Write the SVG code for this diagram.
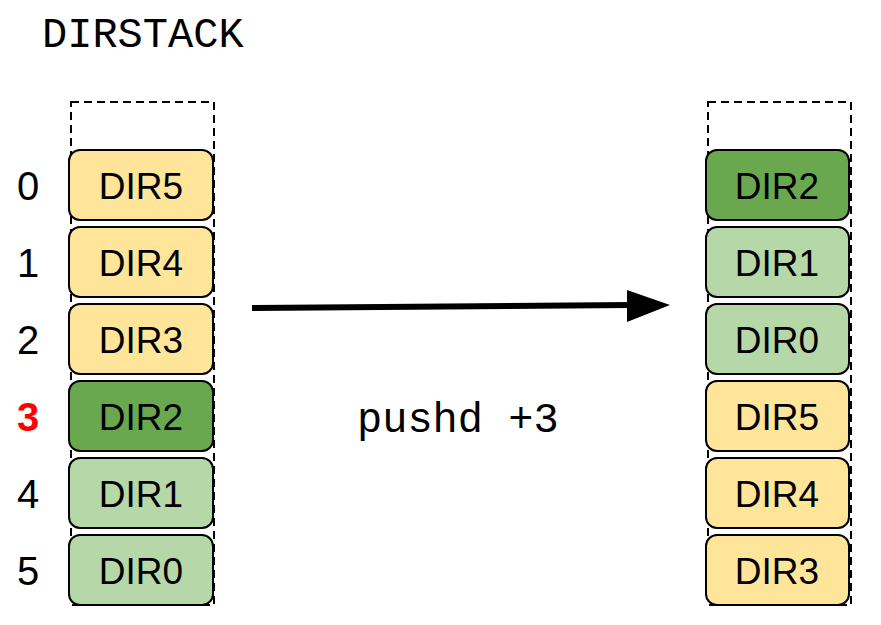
<svg xmlns="http://www.w3.org/2000/svg" width="881" height="625" viewBox="0 0 881 625">
<style>
.frame{fill:none;stroke:#000;stroke-width:2;stroke-dasharray:8 5}
.box{stroke:#000;stroke-width:2}
.y{fill:#FFE599}.dg{fill:#6AA84F}.lg{fill:#B6D7A8}
.lbl{font-family:"Liberation Sans",Arial,sans-serif;font-size:37px;text-anchor:middle;fill:#000}
.idx{font-family:"Liberation Sans",Arial,sans-serif;font-size:40px;text-anchor:middle;fill:#000}
.mono{font-family:"Liberation Mono","Courier New",monospace;font-size:42px;fill:#000}
</style>
<rect width="881" height="625" fill="#fff"/>
<text class="mono" x="42" y="47">DIRSTACK</text>
<rect class="frame" x="71" y="102" width="143" height="503"/>
<rect class="frame" x="708" y="102" width="143" height="503"/>
<g id="indices">
<text class="idx" x="28" y="200">0</text>
<text class="idx" x="28" y="277">1</text>
<text class="idx" x="28" y="354">2</text>
<text class="idx" x="28" y="431" style="fill:#FF0000;font-weight:bold">3</text>
<text class="idx" x="28" y="508">4</text>
<text class="idx" x="28" y="585">5</text>
</g>
<g id="L0"><rect class="box y" x="69" y="150" width="144" height="70" rx="11"/><text class="lbl" x="141" y="199">DIR5</text></g>
<g id="L1"><rect class="box y" x="69" y="227" width="144" height="70" rx="11"/><text class="lbl" x="141" y="276">DIR4</text></g>
<g id="L2"><rect class="box y" x="69" y="304" width="144" height="70" rx="11"/><text class="lbl" x="141" y="353">DIR3</text></g>
<g id="L3"><rect class="box dg" x="69" y="381" width="144" height="70" rx="11"/><text class="lbl" x="141" y="430">DIR2</text></g>
<g id="L4"><rect class="box lg" x="69" y="458" width="144" height="70" rx="11"/><text class="lbl" x="141" y="507">DIR1</text></g>
<g id="L5"><rect class="box lg" x="69" y="535" width="144" height="70" rx="11"/><text class="lbl" x="141" y="584">DIR0</text></g>
<g id="R0"><rect class="box dg" x="706" y="150" width="143" height="70" rx="11"/><text class="lbl" x="777" y="199">DIR2</text></g>
<g id="R1"><rect class="box lg" x="706" y="227" width="143" height="70" rx="11"/><text class="lbl" x="777" y="276">DIR1</text></g>
<g id="R2"><rect class="box lg" x="706" y="304" width="143" height="70" rx="11"/><text class="lbl" x="777" y="353">DIR0</text></g>
<g id="R3"><rect class="box y" x="706" y="381" width="143" height="70" rx="11"/><text class="lbl" x="777" y="430">DIR5</text></g>
<g id="R4"><rect class="box y" x="706" y="458" width="143" height="70" rx="11"/><text class="lbl" x="777" y="507">DIR4</text></g>
<g id="R5"><rect class="box y" x="706" y="535" width="143" height="70" rx="11"/><text class="lbl" x="777" y="584">DIR3</text></g>
<g id="connectors">
<line x1="252" y1="308" x2="630" y2="305" stroke="#000" stroke-width="6"/>
<polygon points="627,290 670,305 627,322" fill="#000"/>
</g>
<text class="mono" x="357" y="432">pushd +3</text>
</svg>
